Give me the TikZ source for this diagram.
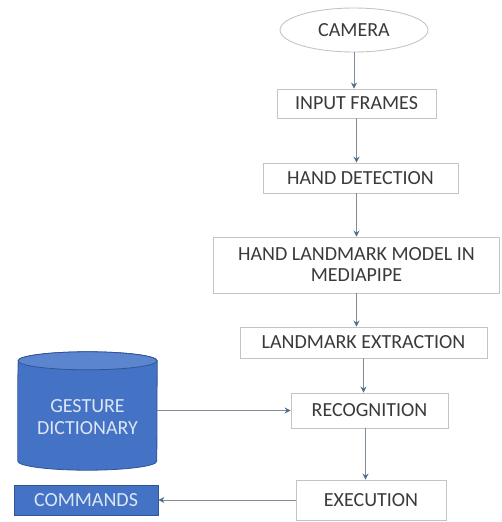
\documentclass[tikz,border=0pt]{standalone}
\usepackage{fontspec}
\setmainfont{Carlito}
\usetikzlibrary{arrows.meta,shapes.geometric}
\definecolor{txt}{HTML}{3A3A3A}
\definecolor{bord}{HTML}{C4C4C4}
\definecolor{blu}{HTML}{4472C4}
\definecolor{bludark}{HTML}{2F5597}
\definecolor{blutop}{HTML}{5B85CF}
\definecolor{blutxt}{HTML}{DCE6F5}
\definecolor{arrline}{HTML}{7F8C99}
\definecolor{arrhead}{HTML}{4F6F8F}
\tikzset{
  stepbox/.style={draw=bord, line width=0.9pt, fill=white, text=txt, inner sep=1pt, align=center, font=\fontsize{20}{21}\selectfont},
  camnode/.style={ellipse, draw=bord, line width=0.9pt, text=txt, inner sep=0pt, font=\fontsize{20}{21}\selectfont},
  bluebox/.style={draw=bludark, line width=0.8pt, fill=blu, text=blutxt, inner sep=1pt, align=center, font=\fontsize{20}{21}\selectfont},
  dbnode/.style={text=blutxt, inner sep=0pt, align=center, font=\fontsize{20}{22}\selectfont},
  arr/.style={draw=arrline, line width=0.9pt, -{Stealth[length=6pt,width=6pt,color=arrhead]}}
}
\begin{document}
\begin{tikzpicture}[x=1pt,y=-1pt]
\useasboundingbox (0,0) rectangle (501,522);
\node[camnode, minimum width=148pt, minimum height=44pt] (cam) at (354,30) {CAMERA};
\node[stepbox, minimum width=159pt, minimum height=29pt] (inp) at (356.5,103.5) {INPUT FRAMES};
\node[stepbox, minimum width=195pt, minimum height=30pt] (hd) at (360.5,178) {HAND DETECTION};
\node[stepbox, minimum width=286pt, minimum height=56pt] (hlm) at (356.5,265) {HAND LANDMARK MODEL IN\\MEDIAPIPE};
\node[stepbox, minimum width=247pt, minimum height=31pt] (le) at (363.5,342.5) {LANDMARK EXTRACTION};
\node[stepbox, minimum width=157pt, minimum height=35pt] (rec) at (369.5,410.5) {RECOGNITION};
\node[stepbox, minimum width=150pt, minimum height=40pt] (ex) at (371,500) {EXECUTION};
\node[bluebox, minimum width=144pt, minimum height=30pt] (cmd) at (86,500) {COMMANDS};
% gesture dictionary cylinder
\node[minimum width=139pt, minimum height=82pt, inner sep=0pt] (gdbox) at (87.5,411) {};
\fill[blu, draw=bludark, line width=0.8pt] (gdbox.north west) ++(0,9) -- ([yshift=-9pt]gdbox.south west) arc[start angle=180, end angle=360, x radius=69.5pt, y radius=9pt] -- ([yshift=9pt]gdbox.north east) arc[start angle=0, end angle=180, x radius=69.5pt, y radius=9pt] -- cycle;
\draw[fill=blutop, draw=bludark, line width=0.8pt] ([yshift=9pt]gdbox.north) ellipse[x radius=69.5pt, y radius=9pt];
\node[dbnode] (gd) at (87.5,417) {GESTURE\\DICTIONARY};
% connectors
\draw[arr] (cam.south) -- (cam.south |- inp.north);
\draw[arr] (inp.south) -- (inp.south |- hd.north);
\draw[arr] (hlm.north |- hd.south) -- (hlm.north);
\draw[arr] (hlm.south) -- (hlm.south |- le.north);
\draw[arr] (le.south) -- (le.south |- rec.north);
\draw[arr] ([xshift=-4pt]rec.south) -- ([xshift=-4pt]rec.south |- ex.north);
\draw[arr] (gdbox.east |- rec.west) -- (rec.west);
\draw[arr] (ex.west) -- (cmd.east);
\end{tikzpicture}
\end{document}
